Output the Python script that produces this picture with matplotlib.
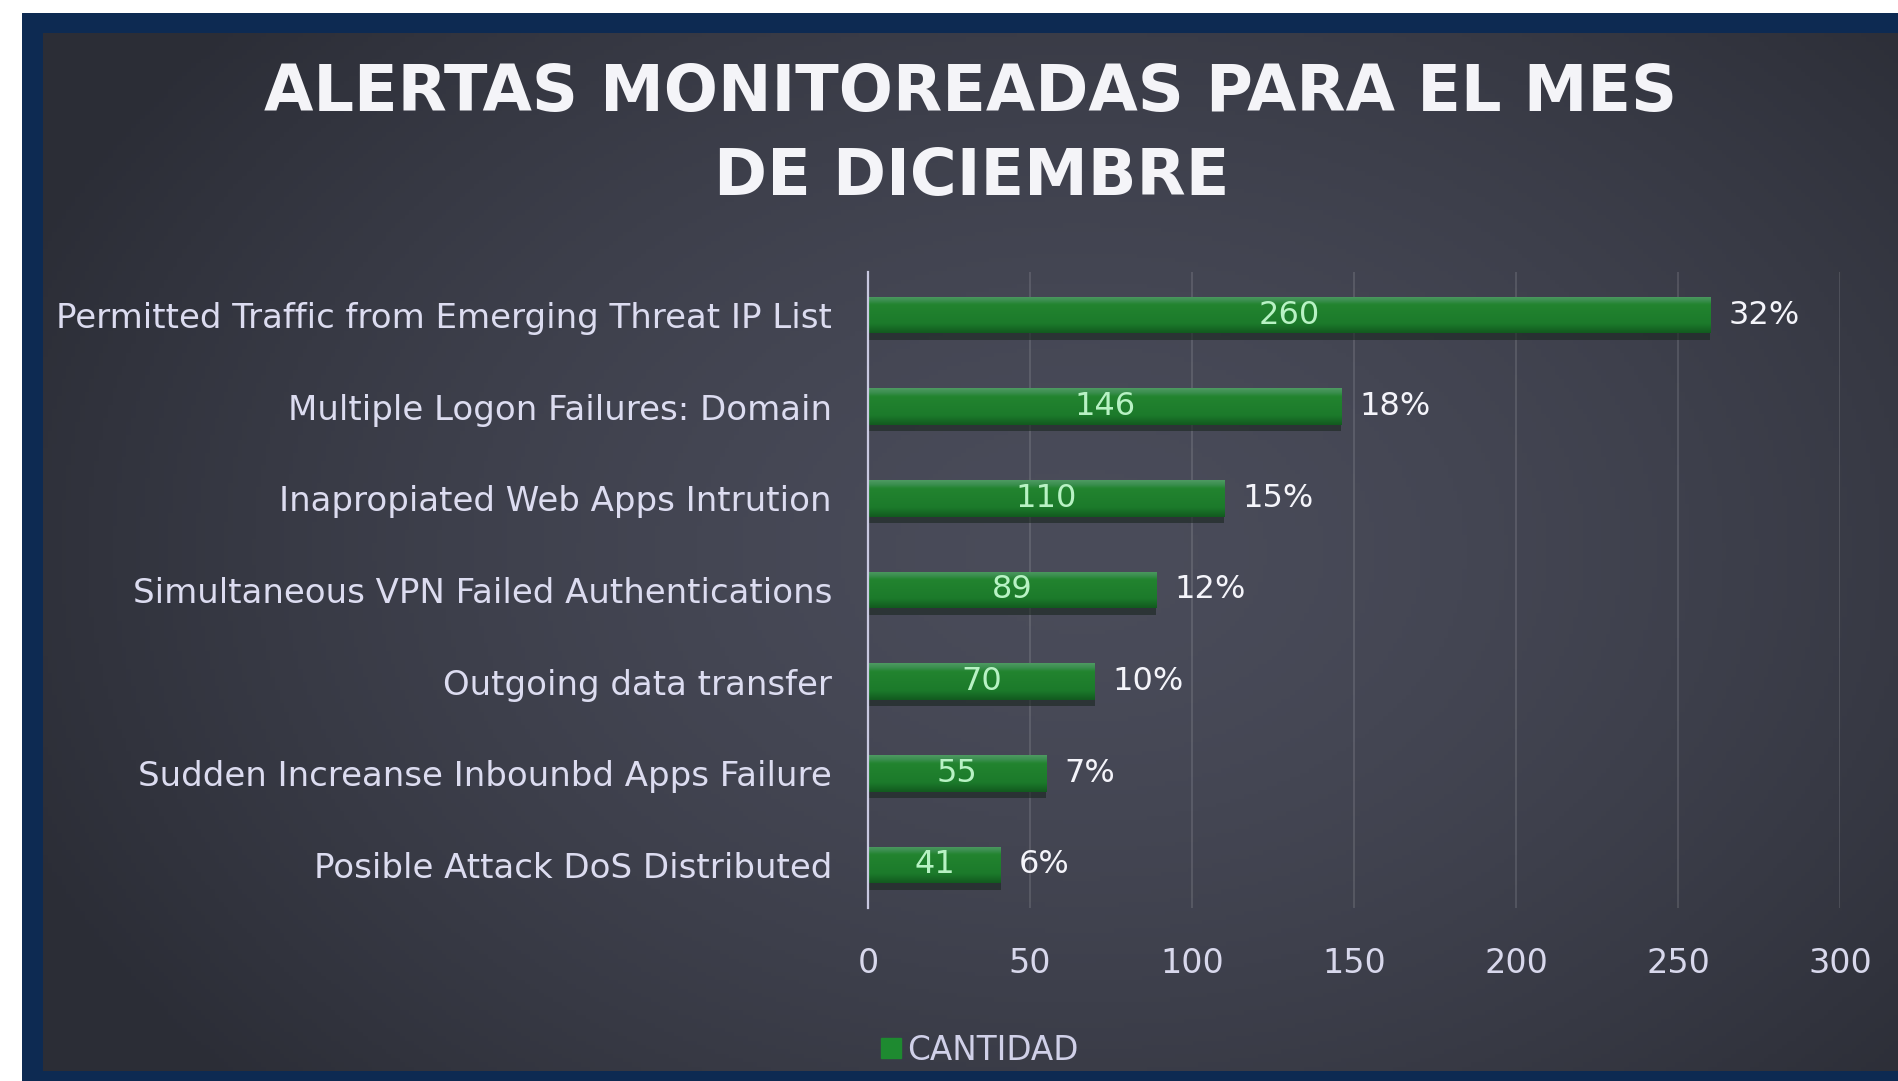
import numpy as np
import matplotlib
matplotlib.use("Agg")
import matplotlib.pyplot as plt
from matplotlib.colors import to_rgb, LinearSegmentedColormap
from matplotlib.patches import Rectangle
from matplotlib.lines import Line2D

# ---------------- data ----------------
categories = [
    "Permitted Traffic from Emerging Threat IP List",
    "Multiple Logon Failures: Domain",
    "Inapropiated Web Apps Intrution",
    "Simultaneous VPN Failed Authentications",
    "Outgoing data transfer",
    "Sudden Increanse Inbounbd Apps Failure",
    "Posible Attack DoS Distributed",
]
cantidad = [260, 146, 110, 89, 70, 55, 41]
porcentaje = [32, 18, 15, 12, 10, 7, 6]
x_ticks = [0, 50, 100, 150, 200, 250, 300]
title_lines = ["ALERTAS MONITOREADAS PARA EL MES", "DE DICIEMBRE"]
legend_label = "CANTIDAD"

# ---------------- figure ----------------
W, H = 1898, 1081
fig = plt.figure(figsize=(W / 100, H / 100), dpi=100, facecolor="white")

def fx(px):
    return px / W

def fy(py):
    return 1 - py / H

# navy frame
frame = fig.add_axes([fx(22), 0, 1 - fx(22), fy(13)])
frame.set_axis_off()
frame.add_patch(Rectangle((0, 0), 1, 1, transform=frame.transAxes, color="#0d2a52"))

# panel with radial gradient
panel = fig.add_axes([fx(43), fy(1071), 1 - fx(43), fy(33) - fy(1071)])
panel.set_axis_off()
gx, gy = np.meshgrid(np.linspace(0, 1, 400), np.linspace(0, 1, 240))
t = np.clip(np.sqrt(((gx - 0.56) / 0.62) ** 2 + ((gy - 0.50) / 0.78) ** 2), 0, 1) ** 1.5
c_center = np.array(to_rgb("#4a4c5a"))
c_edge = np.array(to_rgb("#2b2d36"))
img = c_center[None, None, :] * (1 - t[..., None]) + c_edge[None, None, :] * t[..., None]
panel.imshow(img, extent=(0, 1, 0, 1), aspect="auto", origin="upper")
panel.set_xlim(0, 1)
panel.set_ylim(0, 1)

# title
FONT = "DejaVu Sans"
fig.text(fx(970), fy(93), title_lines[0], ha="center", va="center",
         fontsize=46, fontweight="bold", family=FONT, color="#f4f4f8")
fig.text(fx(972), fy(177), title_lines[1], ha="center", va="center",
         fontsize=46, fontweight="bold", family=FONT, color="#f4f4f8")

# main axes
ax = fig.add_axes([fx(868), fy(908), fx(1840) - fx(868), fy(272) - fy(908)])
ax.patch.set_alpha(0)
ypos = np.arange(len(categories))
bh = 0.40

# shadows
ax.barh(ypos + 0.07, cantidad, height=bh, color="#1a2620", alpha=0.6, zorder=2)
bars = ax.barh(ypos, cantidad, height=bh, color="#1e7b2e", zorder=3)

green_cmap = LinearSegmentedColormap.from_list(
    "g", [(0.0, "#4e9a62"), (0.12, "#3a8e4e"), (0.22, "#22842f"),
          (0.75, "#1c7a2b"), (1.0, "#125a1f")])
grad = np.linspace(0, 1, 64)[:, None]
for b in bars:
    x0, y0, w, h = b.get_x(), b.get_y(), b.get_width(), b.get_height()
    im = ax.imshow(grad, cmap=green_cmap, extent=(x0, x0 + w, y0 + h, y0),
                   aspect="auto", zorder=4, interpolation="bicubic")
    im.set_clip_path(b)

ax.set_xlim(0, 300)
ax.set_ylim(len(categories) - 1 + 0.47, -0.47)
ax.set_xticks(x_ticks)
ax.set_xticklabels([str(v) for v in x_ticks])
ax.set_yticks(ypos)
ax.set_yticklabels(categories)
ax.tick_params(axis="x", length=0, pad=28, labelsize=24, labelcolor="#d8d8ec")
ax.tick_params(axis="y", length=0, pad=26, labelsize=24.5, labelcolor="#dcdcf0")
for lbl in ax.get_xticklabels() + ax.get_yticklabels():
    lbl.set_family(FONT)

ax.grid(axis="x", color="#ffffff", alpha=0.14, linewidth=1.2, zorder=1)
ax.set_axisbelow(True)
for s in ["top", "right", "bottom"]:
    ax.spines[s].set_visible(False)
ax.spines["left"].set_color("#c8c8e0")
ax.spines["left"].set_linewidth(1.6)
ax.spines["left"].set_zorder(5)

# value labels inside bars
for b, v in zip(bars, cantidad):
    ax.text(b.get_x() + b.get_width() / 2, b.get_y() + b.get_height() / 2, str(v),
            ha="center", va="center", fontsize=23, color="#b8f2c4",
            family=FONT, zorder=6)

# percentage labels
for b, p in zip(bars, porcentaje):
    ax.annotate(f"{p}%", (b.get_width(), b.get_y() + b.get_height() / 2),
                xytext=(13, 0), textcoords="offset points", ha="left", va="center",
                fontsize=23, color="#f4f4fa", family=FONT, zorder=6)

# legend
handle = Line2D([], [], marker="s", linestyle="none", markersize=14,
                markerfacecolor="#1e8a30", markeredgecolor="#1e8a30")
leg = fig.legend([handle], [legend_label], loc="center",
                 bbox_to_anchor=(fx(979), fy(1050)), frameon=False,
                 handletextpad=0.15, handlelength=0.7,
                 prop={"family": FONT, "size": 23.5})
for txt in leg.get_texts():
    txt.set_color("#d0d0e8")

fig.savefig("out.png", dpi=100, facecolor="white")
